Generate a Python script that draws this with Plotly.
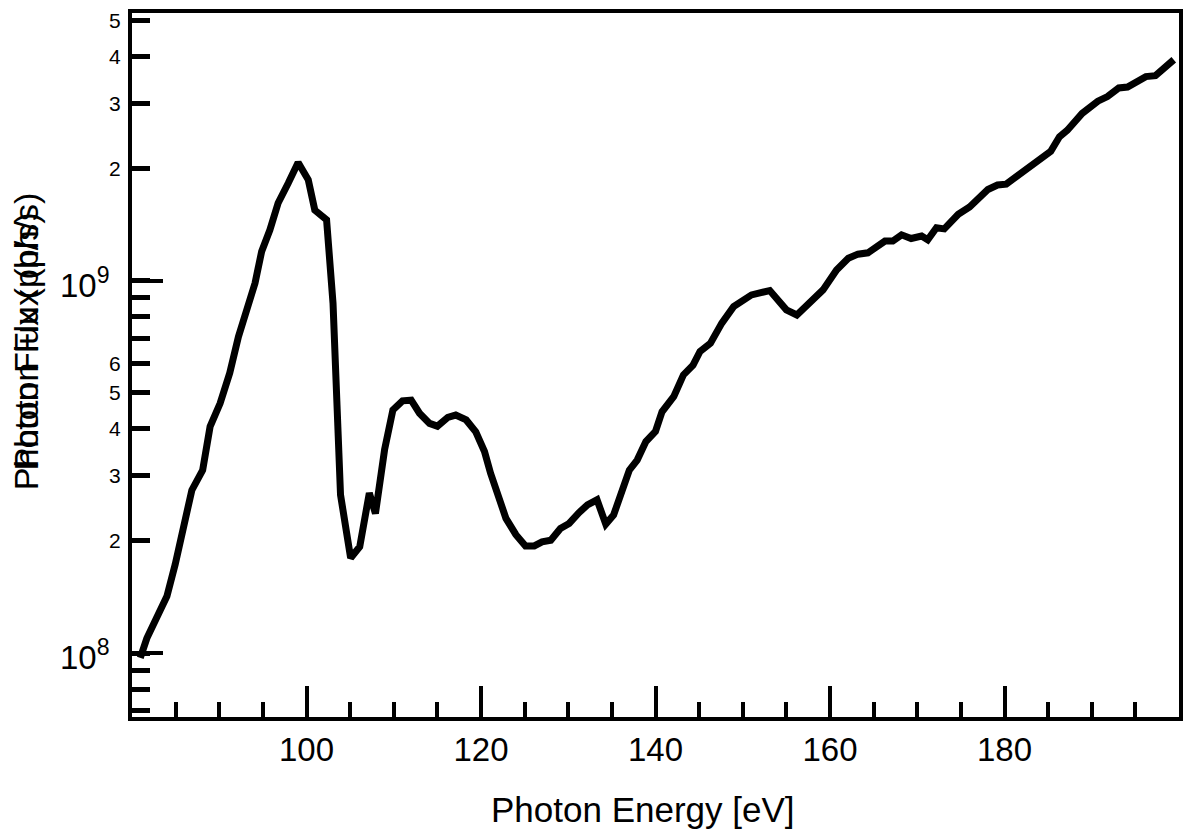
import plotly.graph_objects as go

energy = [80.95, 81.7, 84.0, 84.95, 86.86, 88.1, 88.95, 90.1, 91.2, 92.2, 94.1, 94.86,
          95.8, 96.75, 97.9, 99.04, 100.2, 100.95, 102.3, 103.04, 103.9, 105.06, 106.1,
          107.2, 107.9, 108.95, 109.9, 111.0, 112.0, 112.95, 114.1, 115.0, 116.2, 117.1,
          118.3, 119.4, 120.4, 121.1, 122.86, 124.0, 125.1, 126.1, 127.0, 128.0, 129.1,
          130.1, 131.2, 132.2, 133.3, 134.3, 135.2, 137.0, 137.9, 138.9, 140.0, 140.75,
          142.1, 143.2, 144.3, 145.1, 146.3, 147.6, 148.95, 151.0, 153.1, 155.0, 156.2,
          157.9, 159.2, 160.75, 162.1, 163.2, 164.35, 166.3, 167.2, 168.2, 169.3, 170.5,
          171.2, 172.2, 173.1, 174.7, 176.0, 178.1, 179.2, 180.2, 181.7, 183.4, 185.3,
          186.3, 187.2, 188.9, 190.7, 191.8, 193.1, 194.1, 196.2, 197.3, 198.3, 199.4]

flux = [9.7e7, 1.095e8, 1.42e8, 1.73e8, 2.74e8, 3.1e8, 4.06e8, 4.69e8, 5.65e8, 7.08e8,
        9.86e8, 1.2e9, 1.37e9, 1.62e9, 1.83e9, 2.08e9, 1.87e9, 1.55e9, 1.46e9, 8.71e8,
        2.66e8, 1.8e8, 1.93e8, 2.69e8, 2.37e8, 3.52e8, 4.5e8, 4.76e8, 4.78e8, 4.41e8,
        4.14e8, 4.07e8, 4.3e8, 4.36e8, 4.23e8, 3.93e8, 3.48e8, 3.04e8, 2.3e8, 2.08e8,
        1.94e8, 1.94e8, 1.99e8, 2.01e8, 2.16e8, 2.23e8, 2.38e8, 2.5e8, 2.58e8, 2.22e8,
        2.35e8, 3.1e8, 3.3e8, 3.7e8, 3.94e8, 4.45e8, 4.89e8, 5.59e8, 5.94e8, 6.46e8,
        6.8e8, 7.7e8, 8.53e8, 9.17e8, 9.42e8, 8.36e8, 8.1e8, 8.89e8, 9.46e8, 1.07e9,
        1.15e9, 1.18e9, 1.19e9, 1.28e9, 1.28e9, 1.33e9, 1.30e9, 1.32e9, 1.29e9, 1.39e9,
        1.38e9, 1.51e9, 1.58e9, 1.76e9, 1.81e9, 1.82e9, 1.93e9, 2.07e9, 2.23e9, 2.44e9,
        2.54e9, 2.82e9, 3.04e9, 3.13e9, 3.3e9, 3.32e9, 3.54e9, 3.56e9, 3.73e9, 3.93e9]

x_major = [100, 120, 140, 160, 180]
y_tickvals = [7e7, 8e7, 9e7, 1e8, 2e8, 3e8, 4e8, 5e8, 6e8, 7e8, 8e8, 9e8,
              1e9, 2e9, 3e9, 4e9, 5e9]
y_ticktext = ["", "", "", "", "2", "3", "4", "5", "6", "", "", "",
              "", "2", "3", "4", "5"]
y_decades = [1e8, 1e9]
y_decade_exp = [8, 9]
x_title = "Photon Energy [eV]"
y_title = "Photon Flux (ph/s)"

FONT = "Liberation Sans, Arial, sans-serif"
yrange = [7.828, 9.720]

fig = go.Figure()
fig.add_trace(go.Scatter(x=energy, y=flux, mode="lines",
                         line=dict(color="black", width=7),
                         showlegend=False, hoverinfo="skip"))
fig.add_trace(go.Scatter(x=[None], y=[None], yaxis="y2", mode="lines",
                         showlegend=False, hoverinfo="skip"))

annotations = [
    dict(text=x_title, xref="paper", yref="paper", x=0.488, y=-0.132,
         xanchor="center", yanchor="middle", showarrow=False,
         font=dict(size=35, family=FONT, color="black")),
    dict(text=y_title, xref="paper", yref="paper", x=-0.101, y=0.548,
         xanchor="center", yanchor="middle", showarrow=False, textangle=-90,
         font=dict(size=34, family=FONT, color="black")),
    dict(text=y_title, xref="paper", yref="paper", x=-0.101, y=0.520,
         xanchor="center", yanchor="middle", showarrow=False, textangle=-90,
         font=dict(size=34, family=FONT, color="black")),
]
for e in y_decade_exp:
    annotations.append(dict(text="10<sup>%d</sup>" % e, xref="paper", yref="y",
                            x=-0.0195, y=e, xanchor="right", yanchor="middle",
                            yshift=-2, showarrow=False,
                            font=dict(size=33, family=FONT, color="black")))

fig.update_layout(
    width=1186, height=838,
    margin=dict(l=132, r=3, t=13, b=121, pad=0),
    paper_bgcolor="white", plot_bgcolor="white",
    font=dict(family=FONT, color="black"),
    xaxis=dict(range=[80, 200], tickmode="array", tickvals=x_major,
               ticks="inside", ticklen=31, tickwidth=4, tickcolor="black",
               showline=True, linewidth=4, linecolor="black", mirror=True,
               showgrid=False, zeroline=False,
               tickfont=dict(size=33, family=FONT),
               minor=dict(dtick=5, tick0=0, ticks="inside", ticklen=15,
                          tickwidth=4, tickcolor="black", showgrid=False)),
    yaxis=dict(type="log", range=yrange, tickmode="array",
               tickvals=y_tickvals, ticktext=y_ticktext,
               ticks="inside", ticklen=18, tickwidth=5, tickcolor="black",
               showline=True, linewidth=4, linecolor="black", mirror=True,
               showgrid=False, zeroline=False, ticklabelstandoff=3,
               tickfont=dict(size=21, family=FONT)),
    yaxis2=dict(type="log", range=yrange, overlaying="y", side="left",
                tickmode="array", tickvals=y_decades, showticklabels=False,
                ticks="inside", ticklen=31, tickwidth=4, tickcolor="black",
                showline=False, showgrid=False, zeroline=False),
    annotations=annotations,
)

# remove the browser's default 8px body margin so the figure fills the window
fig.write_html("out.html",
               config={"displayModeBar": False},
               post_script="document.body.style.margin='0px';"
                           "document.body.style.overflow='hidden';")
